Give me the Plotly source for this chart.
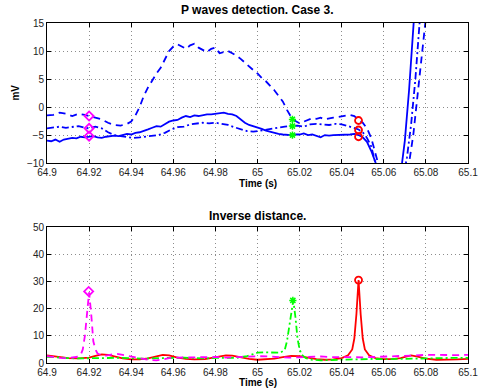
import plotly.graph_objects as go

# ---------------- top panel: ECG leads ----------------
t_solid = [64.900, 64.902, 64.904, 64.906, 64.908, 64.910, 64.912, 64.914, 64.916, 64.918,
           64.920, 64.922, 64.924, 64.926, 64.928, 64.930, 64.932, 64.934, 64.936, 64.938,
           64.940, 64.942, 64.944, 64.946, 64.948, 64.950, 64.952, 64.954, 64.956, 64.958,
           64.960, 64.962, 64.964, 64.966, 64.968, 64.970, 64.972, 64.974, 64.976, 64.978,
           64.980, 64.982, 64.984, 64.986, 64.988, 64.990, 64.992, 64.994, 64.996, 64.998,
           65.000, 65.002, 65.004, 65.006, 65.008, 65.010, 65.012, 65.014, 65.016, 65.018,
           65.020, 65.022, 65.024, 65.026, 65.028, 65.030, 65.032, 65.034, 65.036, 65.038,
           65.040, 65.042, 65.044, 65.046, 65.048, 65.050, 65.052, 65.054, 65.056, 65.058,
           65.062, 65.066, 65.068, 65.070, 65.072, 65.074, 65.076]
v_solid = [-6.0, -6.1, -5.8, -6.2, -5.8, -5.7, -5.5, -5.6, -5.3, -5.4,
           -5.3, -5.2, -5.4, -5.5, -5.3, -5.2, -5.1, -5.2, -5.0, -4.8,
           -4.9, -4.6, -4.5, -4.3, -4.0, -3.7, -3.4, -3.5, -3.0, -2.6,
           -2.4, -2.3, -1.9, -1.6, -1.8, -1.5, -1.6, -1.4, -1.3, -1.3,
           -1.2, -1.1, -1.0, -1.2, -1.3, -1.6, -2.2, -2.8, -3.2, -3.4,
           -3.7, -3.9, -4.2, -4.4, -4.7, -4.8, -4.9, -5.0, -5.0, -4.9,
           -4.9, -4.7, -5.0, -4.9, -5.1, -5.4, -5.0, -5.1, -5.0, -5.0,
           -4.9, -5.0, -4.9, -4.8, -5.0, -5.4, -6.2, -7.8, -9.8, -13.0,
           -20.0, -18.0, -12.0, -6.0, 3.0, 14.0, 25.0]

t_dash = [64.900, 64.903, 64.906, 64.909, 64.912, 64.915, 64.918, 64.920, 64.923, 64.926,
          64.929, 64.932, 64.935, 64.938, 64.940, 64.942, 64.944, 64.946, 64.948, 64.950,
          64.952, 64.954, 64.956, 64.958, 64.960, 64.962, 64.964, 64.966, 64.968, 64.970,
          64.972, 64.974, 64.976, 64.978, 64.980, 64.982, 64.984, 64.986, 64.988, 64.990,
          64.992, 64.994, 64.996, 64.998, 65.000, 65.002, 65.004, 65.006, 65.008, 65.010,
          65.012, 65.014, 65.016, 65.018, 65.020, 65.022, 65.024, 65.026, 65.028, 65.030,
          65.032, 65.034, 65.036, 65.038, 65.040, 65.042, 65.044, 65.046, 65.048, 65.050,
          65.052, 65.054, 65.056, 65.058, 65.062, 65.066, 65.070, 65.072, 65.074, 65.076,
          65.078, 65.080]
v_dash = [-1.5, -1.4, -1.0, -1.2, -1.6, -1.2, -1.4, -1.6, -1.9, -2.2,
          -2.8, -3.2, -3.3, -3.0, -2.6, -1.5, 0.0, 2.0, 3.5, 4.8,
          6.0, 7.0, 8.5, 10.0, 10.8, 11.2, 10.8, 10.4, 11.0, 11.3,
          10.6, 10.2, 9.8, 10.4, 10.6, 9.6, 9.8, 10.0, 9.6, 9.2,
          8.6, 7.9, 7.2, 6.6, 6.0, 5.2, 4.6, 3.8, 3.0, 2.0,
          1.0, -0.5, -1.8, -2.5, -2.9, -2.6, -2.3, -2.0, -2.1, -1.9,
          -2.2, -2.0, -1.9, -1.8, -1.7, -1.5, -1.4, -1.6, -2.3, -2.8,
          -3.8, -5.5, -8.0, -11.0, -18.0, -20.0, -14.0, -10.0, -5.0, 2.0,
          9.0, 16.0]

t_dashdot = [64.900, 64.903, 64.906, 64.909, 64.912, 64.915, 64.918, 64.920, 64.923, 64.926,
             64.929, 64.932, 64.935, 64.938, 64.941, 64.944, 64.947, 64.950, 64.953, 64.956,
             64.959, 64.962, 64.965, 64.968, 64.971, 64.974, 64.977, 64.980, 64.983, 64.986,
             64.989, 64.992, 64.995, 64.998, 65.001, 65.004, 65.007, 65.010, 65.013, 65.016,
             65.019, 65.022, 65.025, 65.028, 65.031, 65.034, 65.037, 65.040, 65.043, 65.046,
             65.048, 65.050, 65.052, 65.054, 65.056, 65.058, 65.062, 65.066, 65.069, 65.071,
             65.073, 65.075, 65.077]
v_dashdot = [-3.8, -3.6, -3.5, -3.7, -3.6, -3.4, -3.7, -3.8, -3.5, -3.8,
             -4.5, -5.0, -5.2, -5.4, -5.5, -5.4, -5.3, -5.2, -5.0, -4.6,
             -4.0, -3.6, -3.5, -3.1, -3.0, -2.8, -2.9, -2.8, -3.0, -3.2,
             -3.6, -4.0, -4.3, -4.4, -4.2, -4.0, -3.8, -3.7, -3.5, -3.4,
             -3.3, -3.5, -3.1, -3.0, -3.1, -3.2, -3.0, -3.1, -3.4, -3.7,
             -4.0, -4.5, -5.5, -7.0, -9.5, -12.0, -19.0, -19.0, -13.0, -9.0,
             -3.0, 5.0, 15.0]

# detections on the three leads (top panel)
p1_t = [64.92, 64.92, 64.92]
p1_v = [-1.6, -3.8, -5.2]
p2_t = [65.0166, 65.0166, 65.0166]
p2_v = [-2.2, -3.4, -5.0]
p3_t = [65.048, 65.048, 65.048]
p3_v = [-2.4, -4.1, -5.3]

# ---------------- bottom panel: inverse distance ----------------
t_mag = [64.900, 64.903, 64.906, 64.909, 64.912, 64.914, 64.916, 64.917, 64.918, 64.919,
         64.920, 64.921, 64.922, 64.923, 64.924, 64.926, 64.928, 64.930, 64.933, 64.936,
         64.940, 64.944, 64.948, 64.952, 64.955, 64.958, 64.962, 64.966, 64.970, 64.975,
         64.980, 64.985, 64.990, 64.995, 65.000, 65.005, 65.010, 65.015, 65.020, 65.025,
         65.030, 65.035, 65.040, 65.045, 65.050, 65.055, 65.060, 65.065, 65.070, 65.075,
         65.080, 65.085, 65.090, 65.095, 65.100]
v_mag = [2.5, 2.1, 1.9, 1.8, 1.9, 2.2, 3.0, 5.0, 10.0, 18.0,
         26.0, 18.0, 8.0, 5.0, 3.5, 2.8, 2.7, 3.0, 3.4, 3.0,
         2.3, 1.8, 1.2, 1.0, 1.3, 1.8, 2.0, 2.1, 2.2, 2.3,
         2.2, 2.0, 2.2, 2.4, 2.5, 2.4, 2.2, 2.0, 2.1, 2.3,
         2.4, 2.2, 2.1, 2.0, 2.1, 2.2, 2.3, 2.5, 2.6, 2.8,
         3.0, 2.9, 2.8, 2.9, 3.0]

t_grn = [64.900, 64.905, 64.910, 64.915, 64.920, 64.925, 64.930, 64.935, 64.940, 64.945,
         64.950, 64.955, 64.960, 64.965, 64.970, 64.975, 64.980, 64.985, 64.990, 64.995,
         64.998, 65.000, 65.003, 65.006, 65.009, 65.011, 65.013, 65.014, 65.015, 65.016,
         65.017, 65.018, 65.019, 65.020, 65.021, 65.023, 65.026, 65.030, 65.035, 65.040,
         65.045, 65.050, 65.055, 65.060, 65.065, 65.070, 65.075, 65.080, 65.085, 65.090,
         65.095, 65.100]
v_grn = [2.3, 2.0, 1.8, 1.7, 1.8, 1.9, 1.8, 1.9, 1.8, 1.6,
         1.7, 1.8, 2.0, 2.0, 1.8, 1.7, 1.9, 2.0, 1.9, 2.5,
         3.4, 3.8, 3.9, 3.8, 3.6, 3.8, 5.0, 8.0, 13.0, 19.0,
         23.0, 17.0, 9.0, 5.0, 3.0, 1.8, 1.2, 1.0, 1.1, 1.3,
         1.5, 1.6, 1.5, 1.4, 1.5, 1.6, 1.7, 1.8, 1.9, 2.0,
         1.9, 1.9]

t_red = [64.900, 64.905, 64.910, 64.915, 64.920, 64.923, 64.926, 64.929, 64.932, 64.936,
         64.940, 64.944, 64.948, 64.952, 64.955, 64.958, 64.962, 64.966, 64.970, 64.975,
         64.980, 64.985, 64.988, 64.992, 64.996, 65.000, 65.004, 65.008, 65.012, 65.016,
         65.020, 65.024, 65.028, 65.032, 65.036, 65.040, 65.043, 65.045, 65.046, 65.047,
         65.048, 65.049, 65.050, 65.051, 65.053, 65.056, 65.060, 65.064, 65.068, 65.071,
         65.073, 65.076, 65.080, 65.085, 65.090, 65.095, 65.100]
v_red = [2.8, 2.2, 1.8, 1.7, 2.0, 2.6, 3.2, 3.0, 2.4, 1.7,
         1.3, 1.3, 1.7, 2.5, 3.0, 2.8, 2.0, 1.5, 1.3, 1.4,
         2.0, 2.8, 2.7, 2.0, 1.5, 1.2, 1.3, 1.6, 2.2, 2.6,
         2.5, 1.9, 1.4, 1.2, 1.3, 1.8, 2.8, 5.0, 9.0, 18.0,
         30.5, 18.0, 9.0, 5.0, 2.8, 1.8, 1.4, 1.4, 1.8, 2.4,
         2.8, 2.3, 1.6, 1.2, 1.2, 1.3, 1.5]

peak_mag = (64.9198, 26.3)
peak_grn = (65.0168, 23.0)
peak_red = (65.048, 30.5)

x_ticks = [64.9, 64.92, 64.94, 64.96, 64.98, 65.0, 65.02, 65.04, 65.06, 65.08, 65.1]
x_ticklabels = ["64.9", "64.92", "64.94", "64.96", "64.98", "65", "65.02", "65.04", "65.06", "65.08", "65.1"]
top_yticks = [-10, -5, 0, 5, 10, 15]
bot_yticks = [0, 10, 20, 30, 40, 50]

BLUE = "#0000ff"
MAG = "#ff00ff"
GRN = "#00ff00"
RED = "#ff0000"

fig = go.Figure()
LW = 1.8
DASH = "7px,5px"
DASHDOT = "7px,3px,2px,3px"
MK_DIAMOND = dict(symbol="diamond-open", color=MAG, size=7, line=dict(width=1.8, color=MAG))
MK_AST = dict(symbol="asterisk-open", color=GRN, size=6, line=dict(width=1.5, color=GRN))
MK_CIRC = dict(symbol="circle-open", color=RED, size=7, line=dict(width=1.8, color=RED))

# top
fig.add_trace(go.Scatter(x=t_solid, y=v_solid, mode="lines", line=dict(color=BLUE, width=LW), xaxis="x", yaxis="y"))
fig.add_trace(go.Scatter(x=t_dash, y=v_dash, mode="lines", line=dict(color=BLUE, width=LW, dash=DASH), xaxis="x", yaxis="y"))
fig.add_trace(go.Scatter(x=t_dashdot, y=v_dashdot, mode="lines", line=dict(color=BLUE, width=LW, dash=DASHDOT), xaxis="x", yaxis="y"))
fig.add_trace(go.Scatter(x=p1_t, y=p1_v, mode="markers", marker=MK_DIAMOND, xaxis="x", yaxis="y"))
fig.add_trace(go.Scatter(x=p2_t, y=p2_v, mode="markers", marker=MK_AST, xaxis="x", yaxis="y"))
fig.add_trace(go.Scatter(x=p3_t, y=p3_v, mode="markers", marker=MK_CIRC, xaxis="x", yaxis="y"))
# bottom
fig.add_trace(go.Scatter(x=t_red, y=v_red, mode="lines", line=dict(color=RED, width=LW), xaxis="x2", yaxis="y2"))
fig.add_trace(go.Scatter(x=t_grn, y=v_grn, mode="lines", line=dict(color=GRN, width=LW, dash=DASHDOT), xaxis="x2", yaxis="y2"))
fig.add_trace(go.Scatter(x=t_mag, y=v_mag, mode="lines", line=dict(color=MAG, width=LW, dash=DASH), xaxis="x2", yaxis="y2"))
fig.add_trace(go.Scatter(x=[peak_mag[0]], y=[peak_mag[1]], mode="markers", marker=MK_DIAMOND, xaxis="x2", yaxis="y2"))
fig.add_trace(go.Scatter(x=[peak_grn[0]], y=[peak_grn[1]], mode="markers", marker=MK_AST, xaxis="x2", yaxis="y2"))
fig.add_trace(go.Scatter(x=[peak_red[0]], y=[peak_red[1]], mode="markers", marker=MK_CIRC, xaxis="x2", yaxis="y2"))

FONT = "Liberation Sans, Arial, sans-serif"
axis_common = dict(showline=True, linecolor="black", linewidth=1, mirror="allticks",
                   ticks="inside", ticklen=4, tickcolor="black",
                   showgrid=True, gridcolor="#8c8c8c", griddash="1px,3px", gridwidth=1,
                   zeroline=False, tickfont=dict(family=FONT, size=10, color="#222222"))

fig.update_layout(
    width=489, height=392,
    margin=dict(l=47, r=11, t=23, b=29),
    paper_bgcolor="white", plot_bgcolor="white",
    showlegend=False,
    font=dict(family=FONT, color="black"),
    xaxis=dict(domain=[0, 1], anchor="y", range=[64.9, 65.1], tickvals=x_ticks, ticktext=x_ticklabels, **axis_common),
    yaxis=dict(domain=[0.588, 1], anchor="x", range=[-10, 15], tickvals=top_yticks, **axis_common),
    xaxis2=dict(domain=[0, 1], anchor="y2", range=[64.9, 65.1], tickvals=x_ticks, ticktext=x_ticklabels, **axis_common),
    yaxis2=dict(domain=[0, 0.4], anchor="x2", range=[0, 50], tickvals=bot_yticks, **axis_common),
)

ann = [
    dict(text="<b>P waves detection. Case 3.</b>", x=0.5, y=1.038, xref="paper", yref="paper", yanchor="middle", font=dict(size=12)),
    dict(text="<b>Inverse distance.</b>", x=0.5, y=0.432, xref="paper", yref="paper", yanchor="middle", font=dict(size=12)),
    dict(text="<b>Time (s)</b>", x=0.5, y=0.529, xref="paper", yref="paper", yanchor="middle", font=dict(size=10)),
    dict(text="<b>Time (s)</b>", x=0.5, y=-0.056, xref="paper", yref="paper", yanchor="middle", font=dict(size=10)),
    dict(text="<b>mV</b>", x=-0.077, y=0.794, xref="paper", yref="paper", xanchor="center", yanchor="middle", textangle=-90, font=dict(size=10)),
]
for a in ann:
    a["showarrow"] = False
    a["font"]["family"] = FONT
fig.update_layout(annotations=ann)

fig.write_html("out.html")
